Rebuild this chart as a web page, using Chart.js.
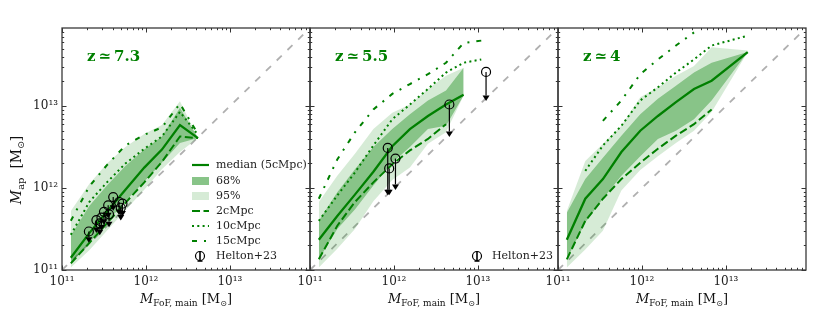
<!DOCTYPE html>
<html><head><meta charset="utf-8">
<script src="https://cdn.jsdelivr.net/npm/chart.js@4.4.0/dist/chart.umd.min.js"></script>
<style>
html,body{margin:0;padding:0;background:#fff;}
#wrap{position:relative;width:831px;height:327px;background:#fff;overflow:hidden;}
canvas{position:absolute;left:0;top:0;}
</style></head><body>
<div id="wrap">
<canvas id="c1" width="831" height="327"></canvas>
<canvas id="c2" width="831" height="327"></canvas>
<canvas id="c3" width="831" height="327"></canvas>
</div>
<script>
// ---- data: all values are log10(M / Msun) ----
const axisMin = 11, axisMax = 13.954;           // 1e11 .. 9e13
const majorExponents = [11, 12, 13];
const tickLabels = ['10¹¹', '10¹²', '10¹³'];
const oneToOne = [11, 14];

// z ~ 7.3
const z73_x     = [11.105, 11.325, 11.535, 11.755, 11.98, 12.19, 12.405, 12.62];
const z73_med   = [11.15, 11.45, 11.71, 11.98, 12.25, 12.47, 12.77, 12.61];
const z73_hi68  = [11.42, 11.78, 12.03, 12.27, 12.47, 12.63, 12.98, 12.61];
const z73_lo68  = [11.08, 11.33, 11.58, 11.84, 12.08, 12.31, 12.55, 12.61];
const z73_hi95  = [11.72, 12.05, 12.30, 12.50, 12.66, 12.77, 13.06, 12.61];
const z73_lo95  = [11.03, 11.24, 11.48, 11.73, 11.98, 12.23, 12.44, 12.61];
const z73_2c    = [11.08, 11.33, 11.57, 11.82, 12.07, 12.32, 12.63, 12.61];
const z73_10c   = [11.43, 11.83, 12.07, 12.30, 12.48, 12.63, 12.93, 12.65];
const z73_15c   = [11.60, 12.02, 12.28, 12.52, 12.65, 12.74, 13.03, 12.66];
const z73_hx    = [11.32, 11.41, 11.45, 11.50, 11.47, 11.55, 11.56, 11.61, 11.68, 11.72, 11.70];
const z73_hy    = [11.47, 11.61, 11.57, 11.71, 11.64, 11.79, 11.68, 11.89, 11.83, 11.81, 11.76];
const z73_hlo   = [11.40, 11.52, 11.49, 11.62, 11.55, 11.70, 11.59, 11.79, 11.74, 11.72, 11.67];

// z ~ 5.5
const z55_x     = [11.105, 11.325, 11.535, 11.755, 11.98, 12.19, 12.405, 12.62, 12.83];
const z55_xext  = [11.105, 11.325, 11.535, 11.755, 11.98, 12.19, 12.405, 12.62, 12.83, 13.04];
const z55_med   = [11.37, 11.66, 11.92, 12.20, 12.51, 12.72, 12.88, 13.02, 13.14];
const z55_hi68  = [11.60, 11.95, 12.23, 12.50, 12.72, 12.90, 13.07, 13.19, 13.47];
const z55_lo68  = [11.13, 11.50, 11.74, 12.03, 12.31, 12.50, 12.72, 12.76, 13.13];
const z55_hi95  = [11.83, 12.15, 12.42, 12.72, 12.92, 13.02, 13.21, 13.37, 13.47];
const z55_lo95  = [11.03, 11.26, 11.50, 11.84, 12.10, 12.25, 12.54, 12.68, 13.13];
const z55_2c    = [11.13, 11.54, 11.83, 12.07, 12.29, 12.46, 12.60, 12.78];
const z55_10c   = [11.60, 11.91, 12.19, 12.52, 12.84, 13.02, 13.21, 13.41, 13.53, 13.57];
const z55_15c   = [11.87, 12.35, 12.68, 12.96, 13.15, 13.27, 13.39, 13.53, 13.77, 13.80];
const z55_hx    = [11.926, 11.943, 12.018, 12.66, 13.097];
const z55_hy    = [12.49, 12.24, 12.36, 13.02, 13.418];
const z55_hlo   = [11.98, 11.98, 12.045, 12.69, 13.13];

// z ~ 4
const z4_x      = [11.105, 11.325, 11.535, 11.755, 11.98, 12.19, 12.405, 12.62, 12.83, 13.26];
const z4_med    = [11.37, 11.87, 12.11, 12.44, 12.70, 12.88, 13.05, 13.21, 13.31, 13.66];
const z4_hi68   = [11.70, 12.11, 12.37, 12.64, 12.90, 13.09, 13.25, 13.41, 13.53, 13.66];
const z4_lo68   = [11.13, 11.58, 11.87, 12.15, 12.39, 12.60, 12.70, 12.84, 13.07, 13.66];
const z4_hi95   = [11.72, 12.33, 12.54, 12.76, 13.11, 13.23, 13.37, 13.49, 13.72, 13.68];
const z4_lo95   = [11.03, 11.25, 11.48, 11.97, 12.22, 12.39, 12.55, 12.70, 12.93, 13.66];
const z4_x2c    = [11.105, 11.325, 11.535, 11.755, 11.98, 12.19, 12.405, 12.62, 12.83];
const z4_2c     = [11.13, 11.60, 11.87, 12.11, 12.31, 12.48, 12.64, 12.78, 12.96];
const z4_x10c   = [11.325, 11.535, 11.755, 11.98, 12.19, 12.405, 12.62, 12.83, 13.26];
const z4_10c    = [12.21, 12.52, 12.76, 13.07, 13.23, 13.41, 13.57, 13.74, 13.86];
const z4_x15c   = [11.535, 11.755, 11.98, 12.19, 12.405, 12.62];
const z4_15c    = [12.82, 13.07, 13.39, 13.57, 13.74, 13.90];

// ---- styling ----
const GREEN = '#008000';
const F68 = 'rgba(0,128,0,0.37)', F95 = 'rgba(0,128,0,0.16)';
const DASH2 = [8, 3.5], DOT10 = [2, 3.3], DASHDOT15 = [5, 7, 2, 7];
const SERIF = '"DejaVu Serif", "Liberation Serif", serif';

function pts(xs, ys) { return ys.map((y, i) => ({x: xs[i], y: y})); }
function curve(xs, ys, dash, w) {
  return {data: pts(xs, ys), borderColor: GREEN, borderWidth: w || 2, borderDash: dash || [],
          pointRadius: 0, fill: false, tension: 0, borderCapStyle: 'butt'};
}
function band(xs, ys, color, fill) {
  return {data: pts(xs, ys), borderWidth: 0, borderColor: 'rgba(0,0,0,0)', backgroundColor: color,
          pointRadius: 0, fill: fill, tension: 0};
}

const panels = [
  {id: 'c1', label: 'z\u2009\u2243\u20097.3', left: 62, right: 310, showY: true, legend: 'full',
   x: z73_x, med: z73_med, hi68: z73_hi68, lo68: z73_lo68, hi95: z73_hi95, lo95: z73_lo95,
   x2: z73_x, c2: z73_2c, x10: z73_x, c10: z73_10c, x15: z73_x, c15: z73_15c,
   hx: z73_hx, hy: z73_hy, hlo: z73_hlo},
  {id: 'c2', label: 'z\u2009\u2243\u20095.5', left: 310, right: 558, showY: false, legend: 'helton',
   x: z55_x, med: z55_med, hi68: z55_hi68, lo68: z55_lo68, hi95: z55_hi95, lo95: z55_lo95,
   x2: z55_x, c2: z55_2c, x10: z55_xext, c10: z55_10c, x15: z55_xext, c15: z55_15c,
   hx: z55_hx, hy: z55_hy, hlo: z55_hlo},
  {id: 'c3', label: 'z\u2009\u2243\u20094', left: 558, right: 806, showY: false, legend: null,
   x: z4_x, med: z4_med, hi68: z4_hi68, lo68: z4_lo68, hi95: z4_hi95, lo95: z4_lo95,
   x2: z4_x2c, c2: z4_2c, x10: z4_x10c, c10: z4_10c, x15: z4_x15c, c15: z4_15c,
   hx: [], hy: [], hlo: []}
];

function drawRuns(ctx, runs, x, y, align) {
  let w = 0;
  runs.forEach(r => { ctx.font = r[1]; w += ctx.measureText(r[0]).width; });
  let cx = align === 'center' ? x - w / 2 : x;
  runs.forEach(r => { ctx.font = r[1]; ctx.fillText(r[0], cx, y + r[2]); cx += ctx.measureText(r[0]).width; });
}

function lineSample(ctx, x0, x1, y, dash, w) {
  ctx.save(); ctx.strokeStyle = GREEN; ctx.lineWidth = w; ctx.setLineDash(dash);
  ctx.beginPath(); ctx.moveTo(x0, y); ctx.lineTo(x1, y); ctx.stroke(); ctx.restore();
}
function heltonHandle(ctx, x, y) {
  ctx.save(); ctx.strokeStyle = '#000'; ctx.lineWidth = 1.2;
  ctx.beginPath(); ctx.arc(x, y, 4.5, 0, Math.PI * 2); ctx.stroke();
  ctx.lineWidth = 1.6;
  ctx.beginPath(); ctx.moveTo(x, y - 5); ctx.lineTo(x, y + 5); ctx.stroke();
  ctx.beginPath(); ctx.moveTo(x - 2.5, y + 5); ctx.lineTo(x + 2.5, y + 5); ctx.stroke();
  ctx.restore();
}

function makeDecor(P) {
  return {
    id: 'decor',
    afterDatasetsDraw(chart) {
      const ctx = chart.ctx, a = chart.chartArea, xs = chart.scales.x, ys = chart.scales.y;
      ctx.save();
      ctx.beginPath(); ctx.rect(a.left, a.top, a.right - a.left, a.bottom - a.top); ctx.clip();
      ctx.strokeStyle = '#000'; ctx.fillStyle = '#000'; ctx.lineWidth = 1.2;
      P.hx.forEach((hx, i) => {
        const px = xs.getPixelForValue(hx), py = ys.getPixelForValue(P.hy[i]), pl = ys.getPixelForValue(P.hlo[i]);
        ctx.beginPath(); ctx.moveTo(px, py); ctx.lineTo(px, pl); ctx.stroke();
        ctx.beginPath(); ctx.moveTo(px - 3.5, pl); ctx.lineTo(px + 3.5, pl); ctx.lineTo(px, pl + 5.5); ctx.closePath(); ctx.fill();
      });
      ctx.restore();
    },
    afterDraw(chart) {
      const ctx = chart.ctx, a = chart.chartArea, xs = chart.scales.x, ys = chart.scales.y;
      ctx.save();
      // ticks (inward, all four sides)
      ctx.strokeStyle = '#333'; ctx.lineWidth = 1;
      const tick = (v, len) => {
        const px = Math.round(xs.getPixelForValue(v)) + 0.5;
        const py = Math.round(ys.getPixelForValue(v)) + 0.5;
        ctx.beginPath();
        if (v >= axisMin && v <= axisMax) {
          ctx.moveTo(px, a.bottom); ctx.lineTo(px, a.bottom - len);
          ctx.moveTo(px, a.top); ctx.lineTo(px, a.top + len);
          ctx.moveTo(a.left, py); ctx.lineTo(a.left + len, py);
          ctx.moveTo(a.right, py); ctx.lineTo(a.right - len, py);
        }
        ctx.stroke();
      };
      majorExponents.forEach(e => {
        tick(e, 4.5);
        for (let k = 2; k <= 9; k++) tick(e + Math.log10(k), 2.2);
      });
      // spines
      ctx.strokeStyle = '#3a3a3a'; ctx.lineWidth = 1.3;
      ctx.strokeRect(a.left, a.top, a.right - a.left, a.bottom - a.top);
      // redshift label
      ctx.fillStyle = GREEN; ctx.font = 'bold 15px ' + SERIF; ctx.textBaseline = 'alphabetic';
      ctx.fillText(P.label, a.left + 25, 61);
      // x axis title
      ctx.fillStyle = '#111';
      const big = '13px ' + SERIF, bigI = 'italic 13px ' + SERIF, small = '9px ' + SERIF, smallS = '8px "DejaVu Sans"';
      drawRuns(ctx, [['M', bigI, 0], ['FoF, main', small, 3], [' [M', big, 0], ['\u2299', smallS, 3], [']', big, 0]],
               (a.left + a.right) / 2, 303, 'center');
      // y axis title
      if (P.showY) {
        const yb = '14px ' + SERIF, ybI = 'italic 14px ' + SERIF, ys9 = '10px ' + SERIF, ysS = '9px "DejaVu Sans"';
        ctx.save(); ctx.translate(21, 170); ctx.rotate(-Math.PI / 2);
        drawRuns(ctx, [['M', ybI, 0], ['ap', ys9, 3], ['  [M', yb, 0], ['\u2299', ysS, 3], [']', yb, 0]], 0, 0, 'center');
        ctx.restore();
      }
      // legends
      ctx.fillStyle = '#222'; ctx.font = '11px ' + SERIF; ctx.textBaseline = 'middle';
      if (P.legend === 'full') {
        const hx0 = 192, hx1 = 209, tx = 216;
        const rows = [165, 181, 196, 211, 226, 241, 256];
        lineSample(ctx, hx0, hx1, rows[0], [], 2.2);
        ctx.fillStyle = F95; ctx.fillRect(hx0, rows[1] - 4, hx1 - hx0, 8);
        ctx.fillStyle = F68; ctx.fillRect(hx0, rows[1] - 4, hx1 - hx0, 8);
        ctx.fillStyle = F95; ctx.fillRect(hx0, rows[2] - 4, hx1 - hx0, 8);
        lineSample(ctx, hx0, hx1, rows[3], DASH2, 2);
        lineSample(ctx, hx0, hx1, rows[4], DOT10, 2);
        lineSample(ctx, hx0, hx1, rows[5], DASHDOT15, 2);
        heltonHandle(ctx, 200, rows[6]);
        ctx.fillStyle = '#222';
        const names = ['median (5cMpc)', '68%', '95%', '2cMpc', '10cMpc', '15cMpc', 'Helton+23'];
        names.forEach((n, i) => ctx.fillText(n, tx, rows[i] + 0.5));
      } else if (P.legend === 'helton') {
        heltonHandle(ctx, 477, 256);
        ctx.fillStyle = '#222';
        ctx.fillText('Helton+23', 492, 256.5);
      }
      ctx.restore();
    }
  };
}

panels.forEach(P => {
  const datasets = [
    {data: pts(P.hx, P.hy), showLine: false, pointRadius: 4.5, pointHoverRadius: 4.5, pointBorderColor: '#000',
     pointBackgroundColor: 'rgba(0,0,0,0)', pointBorderWidth: 1.2, borderColor: '#000', fill: false},
    curve(P.x15, P.c15, DASHDOT15, 2),
    curve(P.x10, P.c10, DOT10, 2),
    curve(P.x2, P.c2, DASH2, 2),
    curve(P.x, P.med, [], 2.3),
    band(P.x, P.hi68, F68, '+1'),
    band(P.x, P.lo68, F68, false),
    band(P.x, P.hi95, F95, '+1'),
    band(P.x, P.lo95, F95, false),
    {data: pts(oneToOne, oneToOne), borderColor: '#b0b0b0', borderWidth: 1.8, borderDash: [7, 8],
     pointRadius: 0, fill: false, tension: 0}
  ];
  const yWidth = P.showY ? 50 : 0;
  new Chart(document.getElementById(P.id), {
    type: 'line',
    data: {datasets: datasets},
    plugins: [makeDecor(P)],
    options: {
      responsive: false, animation: false, devicePixelRatio: 1, events: [],
      layout: {padding: {left: P.left - yWidth, right: 831 - P.right, top: 28, bottom: 17}},
      plugins: {legend: {display: false}, tooltip: {enabled: false}},
      scales: {
        x: {type: 'linear', min: axisMin, max: axisMax,
            grid: {display: false, drawTicks: false}, border: {display: false},
            afterBuildTicks: s => { s.ticks = majorExponents.map(v => ({value: v})); },
            afterFit: s => { s.height = 40; s.paddingLeft = 0; s.paddingRight = 0; },
            ticks: {autoSkip: false, maxRotation: 0, padding: 5, color: '#222',
                    font: {family: SERIF, size: 12},
                    callback: v => tickLabels[majorExponents.indexOf(v)] || ''}},
        y: {type: 'linear', min: axisMin, max: axisMax, display: P.showY,
            grid: {display: false, drawTicks: false}, border: {display: false},
            afterBuildTicks: s => { s.ticks = majorExponents.map(v => ({value: v})); },
            afterFit: s => { s.width = yWidth; s.paddingTop = 0; s.paddingBottom = 0; },
            ticks: {autoSkip: false, padding: 4, color: '#222',
                    font: {family: SERIF, size: 12},
                    callback: v => tickLabels[majorExponents.indexOf(v)] || ''}}
      }
    }
  });
});
</script>
</body></html>
